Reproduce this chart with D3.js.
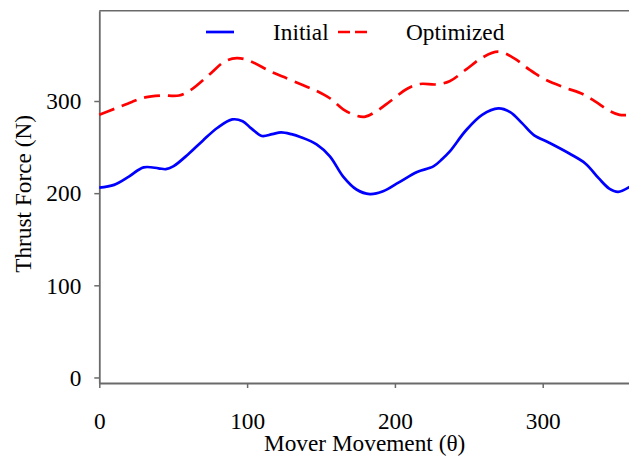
<!DOCTYPE html>
<html>
<head>
<meta charset="utf-8">
<script src="https://cdn.jsdelivr.net/npm/d3@7"></script>
<style>
  html, body { margin: 0; padding: 0; background: #fff; }
  svg, svg text { font-family: "Liberation Serif", "Times New Roman", Times, Tinos, "DejaVu Serif", serif !important; }
</style>
</head>
<body>
<svg id="chart" width="629" height="456"></svg>
<script>
// ---- data ----
const initialTheta = [0, 10, 20, 30, 40, 45, 50, 60, 70, 80, 90, 97, 103, 110, 117, 123, 130, 136, 147, 156, 165, 174, 183, 192, 203, 215, 226, 232, 237, 248, 259, 270, 278, 286, 294, 304, 318, 329, 338, 345, 351, 360];
const initialForce = [206, 209, 218, 228, 227, 226, 229, 242, 257, 271, 280, 278, 270, 262, 264, 266, 264, 261, 253, 240, 218, 204, 199, 202, 212, 223, 229, 237, 245, 268, 285, 292, 288, 276, 263, 255, 243, 232, 216, 205, 201.5, 208];

const optimizedTheta = [0, 11, 22, 31, 42, 54, 62, 74, 85, 93, 101, 116, 125, 138, 147, 156, 165, 174, 180, 188, 197, 208, 217, 228, 237, 248, 259, 270, 281, 291, 302, 316, 327, 336, 345, 352, 360];
const optimizedForce = [285, 292, 299, 304, 306, 306, 312, 328, 343, 346.5, 344, 332, 326, 317, 311, 303, 291, 284, 283, 289.5, 300, 313, 318.5, 318, 321.5, 334, 347, 353.5, 346, 334, 323, 314, 307.6, 299, 289.5, 285, 285];

const xTicks = [0, 100, 200, 300];
const yTicks = [0, 100, 200, 300];
const seriesNames = ["Initial", "Optimized"];
const xTitle = "Mover Movement (θ)";
const yTitle = "Thrust Force (N)";

// ---- layout ----
const svg = d3.select("#chart");
const axisColor = "#6a6a6a";
const fontSize = 23.3;
const serif = '"Liberation Serif", "Times New Roman", Times, Tinos, "DejaVu Serif", serif';

const x = d3.scaleLinear().domain([0, 360]).range([99.3, 631.4]);
const y = d3.scaleLinear().domain([-6, 398]).range([383, 10.7]);

// top border
svg.append("line")
  .attr("x1", x(0)).attr("x2", x(360))
  .attr("y1", y(398)).attr("y2", y(398))
  .attr("stroke", axisColor).attr("stroke-width", 1.6);

// axes
const gx = svg.append("g").attr("transform", `translate(0,${y(-6)})`)
  .call(d3.axisBottom(x).tickValues(xTicks).tickSize(5).tickSizeOuter(0).tickFormat(d3.format("d")));
gx.attr("font-family", null).attr("font-size", null);
gx.select(".domain").attr("stroke", axisColor).attr("stroke-width", 1.8);
gx.selectAll(".tick line").attr("stroke", axisColor).attr("stroke-width", 1.5);
gx.selectAll(".tick text")
  .attr("y", 46).attr("dy", null)
  .style("font-family", serif).style("font-size", fontSize + "px").attr("fill", "#000");

const gy = svg.append("g").attr("transform", `translate(${x(0)},0)`)
  .call(d3.axisLeft(y).tickValues(yTicks).tickSize(5).tickSizeOuter(0).tickPadding(13).tickFormat(d3.format("d")));
gy.attr("font-family", null).attr("font-size", null);
gy.select(".domain").attr("stroke", axisColor).attr("stroke-width", 1.8);
gy.selectAll(".tick line").attr("stroke", axisColor).attr("stroke-width", 1.5);
gy.selectAll(".tick text")
  .attr("dy", "0.33em")
  .style("font-family", serif).style("font-size", fontSize + "px").attr("fill", "#000");

// axis titles
svg.append("text")
  .attr("x", (x(0) + 629) / 2 + 0.5).attr("y", 451)
  .attr("text-anchor", "middle").style("font-family", serif).style("font-size", fontSize + "px").attr("fill", "#000")
  .text(xTitle);

svg.append("text")
  .attr("transform", `translate(31,${(y(398) + y(-6)) / 2 - 3}) rotate(-90)`)
  .attr("text-anchor", "middle").style("font-family", serif).style("font-size", fontSize + "px").attr("fill", "#000")
  .text(yTitle);

// lines
const line = d3.line()
  .x(d => x(d[0])).y(d => y(d[1]))
  .curve(d3.curveCatmullRom.alpha(0.5));

const initialData = initialTheta.map((t, i) => [t, initialForce[i]]);
const optimizedData = optimizedTheta.map((t, i) => [t, optimizedForce[i]]);

svg.append("path")
  .datum(initialData)
  .attr("d", line)
  .attr("fill", "none").attr("stroke", "#0000ff").attr("stroke-width", 2.7);

svg.append("path")
  .datum(optimizedData)
  .attr("d", line)
  .attr("fill", "none").attr("stroke", "#ff0000").attr("stroke-width", 2.7)
  .attr("stroke-dasharray", "16,8");

// legend
const legend = svg.append("g");
legend.append("line")
  .attr("x1", 206).attr("x2", 234).attr("y1", 32).attr("y2", 32)
  .attr("stroke", "#0000ff").attr("stroke-width", 2.7);
legend.append("text")
  .attr("x", 273).attr("y", 40)
  .style("font-family", serif).style("font-size", fontSize + "px").attr("fill", "#000")
  .text(seriesNames[0]);
legend.append("line")
  .attr("x1", 338).attr("x2", 367).attr("y1", 32).attr("y2", 32)
  .attr("stroke", "#ff0000").attr("stroke-width", 2.7)
  .attr("stroke-dasharray", "12,5");
legend.append("text")
  .attr("x", 406).attr("y", 40)
  .style("font-family", serif).style("font-size", fontSize + "px").attr("fill", "#000")
  .text(seriesNames[1]);
</script>
</body>
</html>
